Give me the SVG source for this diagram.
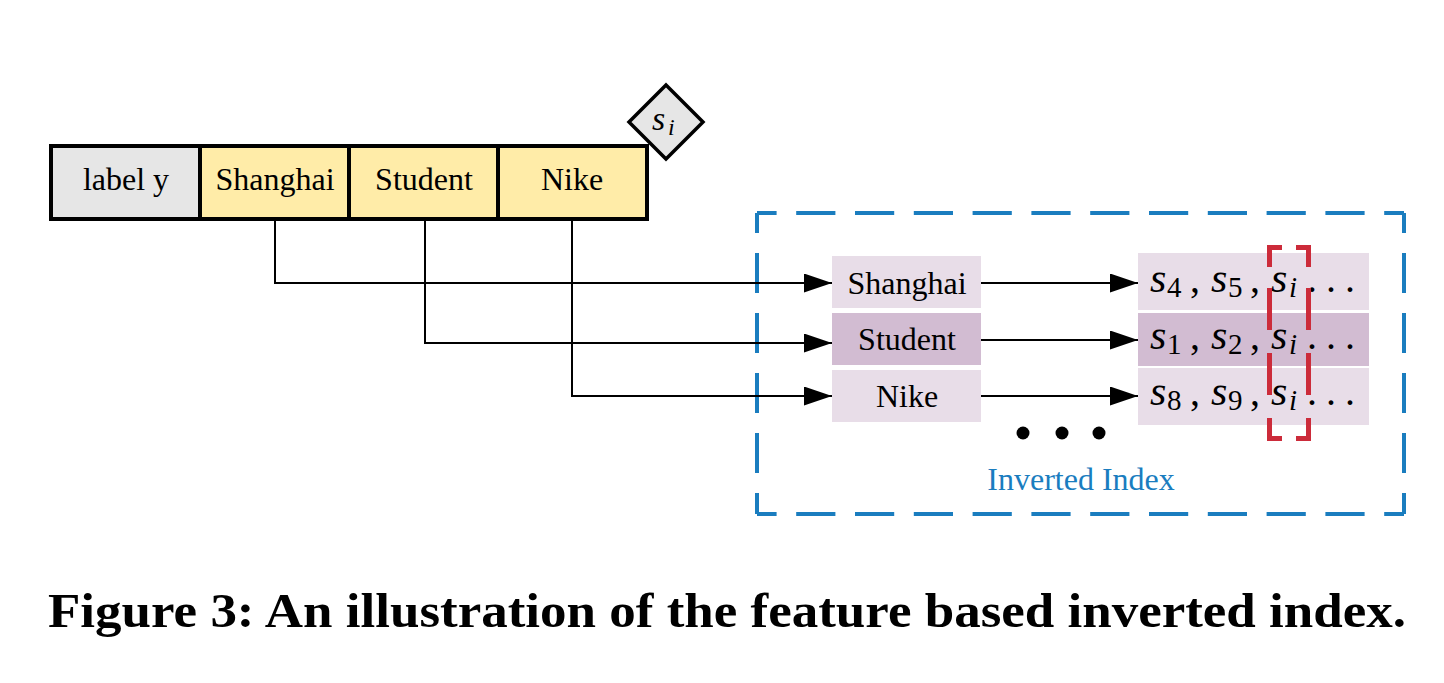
<svg xmlns="http://www.w3.org/2000/svg" width="1444" height="683" viewBox="0 0 1444 683">
<style>
.t{font-family:"Liberation Serif","Times New Roman",serif;fill:#000;}
.lbl{font-size:32px;text-anchor:middle;}
.m{font-family:"Liberation Serif","Times New Roman",serif;font-size:42px;font-style:italic;fill:#000;}
.c{font-family:"Liberation Serif","Times New Roman",serif;font-size:40px;fill:#000;}
.sub{font-family:"Liberation Serif","Times New Roman",serif;font-size:29px;fill:#000;}
.subi{font-family:"Liberation Serif","Times New Roman",serif;font-size:29px;font-style:italic;fill:#000;}
.cell{stroke:#000;stroke-width:4;}
.conn{fill:none;stroke:#000;stroke-width:2;}
.red{fill:none;stroke:#cc2b3a;stroke-width:5;}
.blue{fill:none;stroke:#1a7dbf;stroke-width:4;}
</style>
<defs>
<marker id="arr" markerUnits="userSpaceOnUse" markerWidth="30" markerHeight="20" refX="28" refY="9.5" orient="auto">
<path d="M0,0 L28,9.5 L0,19 z" fill="#000"/>
</marker>
</defs>
<rect width="1444" height="683" fill="#fff"/>

<g id="feature-bar">
<rect class="cell" x="51" y="146" width="149" height="73" fill="#e6e6e6"/>
<rect class="cell" x="200" y="146" width="149" height="73" fill="#ffeca8"/>
<rect class="cell" x="349" y="146" width="149" height="73" fill="#ffeca8"/>
<rect class="cell" x="498" y="146" width="149" height="73" fill="#ffeca8"/>
<text class="t lbl" x="126" y="190">label y</text>
<text class="t lbl" x="275" y="190">Shanghai</text>
<text class="t lbl" x="424" y="190">Student</text>
<text class="t lbl" x="572" y="190">Nike</text>
</g>

<g id="si-diamond">
<polygon points="666,85 703,122 666,159 629,122" fill="#e6e6e6" stroke="#000" stroke-width="3.5"/>
<text class="m" x="652" y="130" style="font-size:34px">s</text>
<text class="subi" x="668" y="135" style="font-size:24px">i</text>
</g>

<g id="inverted-index">
<path class="blue" d="M757,213 V514" stroke-dasharray="40 20" stroke-dashoffset="20"/>
<path class="blue" d="M1404,213 V514" stroke-dasharray="40 20" stroke-dashoffset="20"/>
<path class="blue" d="M757,213 H1404" stroke-dasharray="39.2 19.6" stroke-dashoffset="19.6"/>
<path class="blue" d="M757,514 H1404" stroke-dasharray="39.2 19.6" stroke-dashoffset="19.6"/>
<text class="t" x="1081" y="490" font-size="32" text-anchor="middle" style="fill:#1a7dbf">Inverted Index</text>
</g>

<g id="key-shanghai">
<rect x="832" y="256" width="149" height="52" fill="#e8dde8"/>
<text class="t lbl" x="907" y="294">Shanghai</text>
</g>
<g id="key-student">
<rect x="832" y="313" width="149" height="52" fill="#d2bcd2"/>
<text class="t lbl" x="907" y="350">Student</text>
</g>
<g id="key-nike">
<rect x="832" y="370" width="149" height="52" fill="#e8dde8"/>
<text class="t lbl" x="907" y="407">Nike</text>
</g>

<g id="list-shanghai">
<rect x="1138" y="253" width="231" height="57" fill="#e8dde8"/>
<text class="m" x="1150" y="292">s</text><text class="sub" x="1167" y="297">4</text><text class="c" x="1190" y="292">,</text>
<text class="m" x="1211" y="292">s</text><text class="sub" x="1228" y="297">5</text><text class="c" x="1250" y="292">,</text>
<text class="m" x="1271" y="292">s</text><text class="subi" x="1289" y="297">i</text>
<text class="c" x="1307" y="292">.</text><text class="c" x="1326" y="292">.</text><text class="c" x="1345" y="292">.</text>
</g>
<g id="list-student">
<rect x="1138" y="313" width="231" height="53" fill="#d2bcd2"/>
<text class="m" x="1150" y="349">s</text><text class="sub" x="1167" y="354">1</text><text class="c" x="1190" y="349">,</text>
<text class="m" x="1211" y="349">s</text><text class="sub" x="1228" y="354">2</text><text class="c" x="1250" y="349">,</text>
<text class="m" x="1271" y="349">s</text><text class="subi" x="1289" y="354">i</text>
<text class="c" x="1307" y="349">.</text><text class="c" x="1326" y="349">.</text><text class="c" x="1345" y="349">.</text>
</g>
<g id="list-nike">
<rect x="1138" y="368" width="231" height="57" fill="#e8dde8"/>
<text class="m" x="1150" y="405">s</text><text class="sub" x="1167" y="410">8</text><text class="c" x="1190" y="405">,</text>
<text class="m" x="1211" y="405">s</text><text class="sub" x="1228" y="410">9</text><text class="c" x="1250" y="405">,</text>
<text class="m" x="1271" y="405">s</text><text class="subi" x="1289" y="410">i</text>
<text class="c" x="1307" y="405">.</text><text class="c" x="1326" y="405">.</text><text class="c" x="1345" y="405">.</text>
</g>

<g id="si-highlight">
<path class="red" d="M1282,247.5 H1269.5 V267"/>
<path class="red" d="M1296,247.5 H1308.5 V267"/>
<path class="red" d="M1269.5,288 V330 M1269.5,353 V395"/>
<path class="red" d="M1308.5,288 V330 M1308.5,353 V395"/>
<path class="red" d="M1269.5,418 V438.5 H1282"/>
<path class="red" d="M1308.5,418 V438.5 H1296"/>
</g>

<g id="ellipsis">
<circle cx="1023" cy="433" r="6.5" fill="#000"/>
<circle cx="1062" cy="433" r="6.5" fill="#000"/>
<circle cx="1099" cy="433" r="6.5" fill="#000"/>
</g>

<g id="connectors">
<path class="conn" d="M275,219 V283 H832" marker-end="url(#arr)"/>
<path class="conn" d="M425,219 V343 H832" marker-end="url(#arr)"/>
<path class="conn" d="M572,219 V396 H832" marker-end="url(#arr)"/>
<path class="conn" d="M981,283 H1138" marker-end="url(#arr)"/>
<path class="conn" d="M981,340 H1138" marker-end="url(#arr)"/>
<path class="conn" d="M981,396 H1138" marker-end="url(#arr)"/>
</g>

<text class="t" x="48" y="627" font-size="48" font-weight="bold" textLength="1358" lengthAdjust="spacingAndGlyphs">Figure 3: An illustration of the feature based inverted index.</text>
</svg>
